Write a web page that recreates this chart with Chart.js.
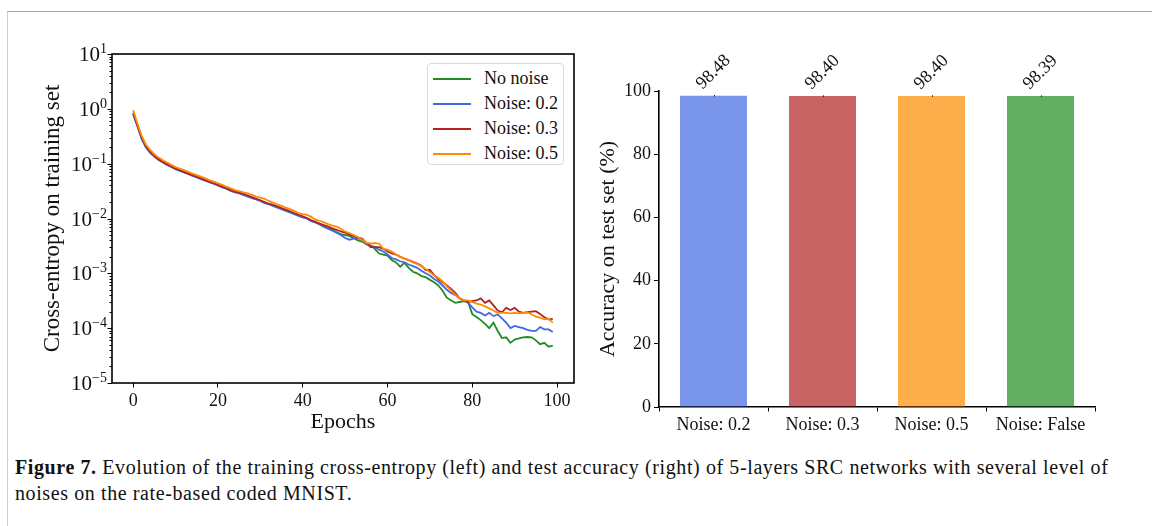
<!DOCTYPE html>
<html>
<head>
<meta charset="utf-8">
<script src="https://cdn.jsdelivr.net/npm/chart.js@4.4.0/dist/chart.umd.min.js"></script>
<style>
  body { margin: 0; width: 1152px; height: 526px; overflow: hidden; background: #fff; font-family: "Liberation Serif", serif; }
  #frame { position: absolute; left: 7px; top: 11px; right: 0; bottom: 0; border-top: 1px solid #a6a6a6; border-left: 1px solid #cfcfcf; }
  #left { position: absolute; left: 0; top: 0; }
  #right { position: absolute; left: 580px; top: 0; }
  #legend { position: absolute; left: 427px; top: 63px; width: 137px; height: 102px; border: 1px solid #dadada; border-radius: 4px; background: #fff; box-sizing: border-box; padding-top: 2px; font-family: "Liberation Serif", serif; }
  #legend .row { height: 25px; display: flex; align-items: center; font-size: 18px; color: #111; }
  #legend .swatch { width: 38px; height: 2px; margin-left: 5px; margin-right: 13px; }
  #caption { position: absolute; left: 15px; top: 454px; font-size: 20px; letter-spacing: 0.6px; line-height: 26px; color: #111; white-space: nowrap; font-family: "Liberation Serif", serif; }
</style>
</head>
<body>
<div id="frame"></div>
<canvas id="left" width="600" height="440"></canvas>
<canvas id="right" width="572" height="440"></canvas>
<div id="legend"></div>
<div id="caption"><b>Figure 7.</b> Evolution of the training cross-entropy (left) and test accuracy (right) of 5-layers SRC networks with several level of<br>noises on the rate-based coded MNIST.</div>
<script>
// ---- données : entropie croisée (échelle log) ----
const epochs = Array.from({ length: 100 }, (_, i) => i);

const noNoise = [
  0.81, 0.49, 0.29, 0.20, 0.16, 0.136, 0.118, 0.106, 0.096, 0.088,
  0.080, 0.075, 0.070, 0.065, 0.061, 0.057, 0.053, 0.050, 0.046, 0.043,
  0.040, 0.038, 0.035, 0.033, 0.031, 0.029, 0.027, 0.026, 0.024, 0.0226,
  0.0212, 0.0196, 0.0184, 0.0172, 0.0162, 0.0150, 0.0140, 0.0131, 0.0122, 0.0114,
  0.0106, 0.0100, 0.0092, 0.0085, 0.0078, 0.0070, 0.0066, 0.0062, 0.0056, 0.0052,
  0.0050, 0.0048, 0.0044, 0.0040, 0.0038, 0.0034, 0.0032, 0.0028, 0.0023, 0.0022,
  0.0021, 0.00174, 0.00158, 0.00132, 0.00155, 0.00126, 0.00107, 0.00100, 0.00089, 0.00085,
  0.00076, 0.00069, 0.00060, 0.00048, 0.00036, 0.00032, 0.00029, 0.00030, 0.00031, 0.00030,
  0.00018, 0.00016, 0.00014, 0.00012, 0.00010, 0.000126, 0.000089, 0.000066, 0.000068, 0.000054,
  0.000062, 0.000065, 0.000068, 0.000069, 0.000068, 0.000060, 0.000051, 0.000054, 0.000046, 0.000048
];
const noise02 = [
  0.79, 0.48, 0.28, 0.20, 0.158, 0.135, 0.117, 0.105, 0.095, 0.087,
  0.079, 0.074, 0.069, 0.065, 0.060, 0.056, 0.052, 0.049, 0.046, 0.043,
  0.040, 0.037, 0.035, 0.032, 0.030, 0.029, 0.027, 0.025, 0.0234, 0.0224,
  0.0209, 0.0191, 0.0182, 0.0170, 0.0158, 0.0148, 0.0138, 0.0129, 0.0120, 0.0112,
  0.0105, 0.0100, 0.0089, 0.0085, 0.0079, 0.0072, 0.0065, 0.0060, 0.0055, 0.0050,
  0.0044, 0.0041, 0.0043, 0.0044, 0.0040, 0.0035, 0.0032, 0.0030, 0.0027, 0.0025,
  0.0022, 0.0019, 0.0018, 0.00166, 0.00158, 0.00145, 0.00135, 0.00126, 0.00112, 0.00100,
  0.00091, 0.00079, 0.00071, 0.00060, 0.00050, 0.00044, 0.00040, 0.00035, 0.00032, 0.00029,
  0.00024, 0.00020, 0.00019, 0.00017, 0.00019, 0.000166, 0.000178, 0.000151, 0.000126, 0.000100,
  0.000110, 0.000105, 0.000100, 0.000093, 0.000089, 0.000089, 0.000105, 0.000095, 0.000095, 0.000085
];
const noise03 = [
  0.85, 0.50, 0.30, 0.21, 0.166, 0.138, 0.120, 0.107, 0.098, 0.089,
  0.081, 0.076, 0.071, 0.066, 0.062, 0.058, 0.054, 0.050, 0.047, 0.044,
  0.041, 0.038, 0.0355, 0.033, 0.031, 0.0295, 0.0282, 0.0263, 0.0245, 0.0229,
  0.0214, 0.0200, 0.0186, 0.0178, 0.0166, 0.0155, 0.0145, 0.0135, 0.0126, 0.0117,
  0.0110, 0.0102, 0.0093, 0.0087, 0.0081, 0.0076, 0.0071, 0.0066, 0.0062, 0.0058,
  0.0055, 0.0051, 0.0048, 0.0045, 0.0043, 0.0036, 0.0030, 0.0030, 0.0030, 0.0028,
  0.0025, 0.0023, 0.0022, 0.0020, 0.00186, 0.00174, 0.00162, 0.00151, 0.00138, 0.00115,
  0.00115, 0.00093, 0.00079, 0.00069, 0.00060, 0.00052, 0.00044, 0.00035, 0.00032, 0.00030,
  0.00031, 0.00032, 0.00035, 0.00029, 0.00032, 0.00026, 0.00021, 0.000195, 0.000234, 0.000214,
  0.000234, 0.000200, 0.000190, 0.000195, 0.000200, 0.000204, 0.000182, 0.000158, 0.000145, 0.000148
];
const noise05 = [
  0.95, 0.54, 0.32, 0.224, 0.178, 0.148, 0.129, 0.115, 0.105, 0.095,
  0.087, 0.081, 0.076, 0.071, 0.066, 0.062, 0.058, 0.054, 0.050, 0.047,
  0.044, 0.041, 0.038, 0.0355, 0.033, 0.0316, 0.030, 0.0288, 0.0269, 0.0251,
  0.0240, 0.0229, 0.0209, 0.0195, 0.0182, 0.0170, 0.0158, 0.0148, 0.0138, 0.0126,
  0.0120, 0.0117, 0.0107, 0.0095, 0.0091, 0.0085, 0.0079, 0.0074, 0.0071, 0.0065,
  0.0058, 0.0054, 0.0050, 0.0046, 0.0041, 0.0036, 0.0035, 0.00355, 0.0035, 0.0028,
  0.0027, 0.0025, 0.0022, 0.0020, 0.00186, 0.00174, 0.00158, 0.00148, 0.00135, 0.00120,
  0.00105, 0.00091, 0.00083, 0.00071, 0.00058, 0.00049, 0.00041, 0.00035, 0.00032, 0.00032,
  0.00030, 0.00028, 0.00027, 0.00025, 0.00023, 0.00021, 0.00019, 0.00019, 0.00019, 0.000186,
  0.00019, 0.000186, 0.00019, 0.000195, 0.000178, 0.000162, 0.000155, 0.000145, 0.000148, 0.000126
];
const lineLabels = ['No noise', 'Noise: 0.2', 'Noise: 0.3', 'Noise: 0.5'];
const lineColors = ['#228b22', '#4169e1', '#b22222', '#ff8c00'];
const xTicks = [0, 20, 40, 60, 80, 100];

// ---- données : précision sur le test ----
const barLabels = ['Noise: 0.2', 'Noise: 0.3', 'Noise: 0.5', 'Noise: False'];
const barValues = [98.48, 98.40, 98.40, 98.39];
const barErrors = [0.2, 0.2, 0.2, 0.2];
const barColors = ['rgba(65,105,225,0.7)', 'rgba(178,34,34,0.7)', 'rgba(255,140,0,0.7)', 'rgba(34,139,34,0.7)'];

const FONT = '"Liberation Serif", serif';
const INK = '#111';

// cadre complet + graduations log dessinées à partir de l'échelle
const logFrame = {
  id: 'logFrame',
  afterDraw(chart) {
    const { ctx, chartArea: a, scales: { y } } = chart;
    ctx.save();
    ctx.strokeStyle = '#000';
    ctx.lineWidth = 1.6;
    ctx.strokeRect(a.left, a.top, a.right - a.left, a.bottom - a.top);
    ctx.lineWidth = 1;
    ctx.fillStyle = INK;
    for (let p = -5; p <= 1; p++) {
      for (let m = 1; m <= 9; m++) {
        const v = m * Math.pow(10, p);
        if (v > 10.0001) break;
        const py = Math.round(y.getPixelForValue(v)) + 0.5;
        const len = m === 1 ? 4.5 : 2.5;
        ctx.beginPath();
        ctx.moveTo(a.left - len, py);
        ctx.lineTo(a.left, py);
        ctx.stroke();
      }
      const py = y.getPixelForValue(Math.pow(10, p));
      const exp = p < 0 ? '\u2212' + (-p) : String(p);
      ctx.font = '14px ' + FONT;
      ctx.textAlign = 'right';
      ctx.textBaseline = 'alphabetic';
      const ew = ctx.measureText(exp).width;
      const xr = a.left - 5;
      ctx.fillText(exp, xr, py - 1);
      ctx.font = '21px ' + FONT;
      ctx.fillText('10', xr - ew, py + 7);
    }
    ctx.restore();
  }
};

const leftChart = new Chart(document.getElementById('left'), {
  type: 'line',
  data: {
    datasets: [noNoise, noise02, noise03, noise05].map((s, i) => ({
      label: lineLabels[i],
      data: s.map((v, k) => ({ x: epochs[k], y: v })),
      borderColor: lineColors[i],
      borderWidth: 1.8,
      pointRadius: 0,
      tension: 0,
      order: 3 - i
    }))
  },
  options: {
    responsive: false,
    animation: false,
    layout: { padding: { left: 0, right: 26, top: 54, bottom: 0 } },
    plugins: { legend: { display: false }, tooltip: { enabled: false } },
    scales: {
      x: {
        type: 'linear',
        min: -5,
        max: 104,
        afterBuildTicks: s => { s.ticks = xTicks.map(v => ({ value: v })); },
        afterFit: s => { s.height = 57; },
        grid: { drawOnChartArea: false, tickLength: 4.5, color: '#000', lineWidth: 1 },
        border: { display: false },
        ticks: { color: INK, font: { family: FONT, size: 18 }, padding: 3, maxRotation: 0 },
        title: { display: true, text: 'Epochs', color: INK, font: { family: FONT, size: 22 }, padding: { bottom: 5 } }
      },
      y: {
        type: 'logarithmic',
        min: 1e-5,
        max: 10,
        afterFit: s => { s.width = 112; },
        grid: { display: false },
        border: { display: false },
        ticks: { display: false },
        title: { display: true, text: 'Cross-entropy on training set', color: INK, font: { family: FONT, size: 23 }, padding: { top: 39 } }
      }
    }
  },
  plugins: [logFrame]
});

// légende HTML dans le coin du graphe de gauche
const legendBox = document.getElementById('legend');
leftChart.data.datasets.forEach(ds => {
  const row = document.createElement('div');
  row.className = 'row';
  row.innerHTML = '<span class="swatch" style="background:' + ds.borderColor + '"></span>' + ds.label;
  legendBox.appendChild(row);
});

// valeurs tournées à 45° + petites barres d'erreur
const barNotes = {
  id: 'barNotes',
  afterDatasetsDraw(chart) {
    const { ctx, scales: { y } } = chart;
    const meta = chart.getDatasetMeta(0);
    ctx.save();
    meta.data.forEach((bar, i) => {
      const top = y.getPixelForValue(barValues[i] + barErrors[i]);
      const bot = y.getPixelForValue(barValues[i] - barErrors[i]);
      ctx.strokeStyle = '#000';
      ctx.lineWidth = 1;
      ctx.beginPath();
      ctx.moveTo(Math.round(bar.x) + 0.5, top);
      ctx.lineTo(Math.round(bar.x) + 0.5, bot);
      ctx.stroke();
      ctx.translate(bar.x, top - 23);
      ctx.rotate(-Math.PI / 4);
      ctx.font = '18px ' + FONT;
      ctx.fillStyle = INK;
      ctx.textAlign = 'center';
      ctx.textBaseline = 'middle';
      ctx.fillText(barValues[i].toFixed(2), 0, 0);
      ctx.setTransform(1, 0, 0, 1, 0, 0);
    });
    ctx.restore();
  }
};

new Chart(document.getElementById('right'), {
  type: 'bar',
  data: {
    labels: barLabels,
    datasets: [{
      data: barValues,
      backgroundColor: barColors,
      borderWidth: 0,
      barPercentage: 0.615,
      categoryPercentage: 1
    }]
  },
  options: {
    responsive: false,
    animation: false,
    layout: { padding: { left: 0, right: 57, top: 91, bottom: 0 } },
    plugins: { legend: { display: false }, tooltip: { enabled: false } },
    scales: {
      x: {
        afterFit: s => { s.height = 33; },
        grid: { drawOnChartArea: false, tickLength: 4.5, color: '#000', lineWidth: 1 },
        border: { display: true, color: '#000', width: 1.6 },
        ticks: { color: INK, font: { family: FONT, size: 18 }, padding: 3, maxRotation: 0 }
      },
      y: {
        min: 0,
        max: 100,
        afterFit: s => { s.width = 79; },
        grid: { drawOnChartArea: false, tickLength: 5, color: '#000', lineWidth: 1 },
        border: { display: true, color: '#000', width: 1.6 },
        ticks: { stepSize: 20, color: INK, font: { family: FONT, size: 18 }, padding: 3 },
        title: { display: true, text: 'Accuracy on test set (%)', color: INK, font: { family: FONT, size: 22 }, padding: { top: 15 } }
      }
    }
  },
  plugins: [barNotes]
});
</script>
</body>
</html>
